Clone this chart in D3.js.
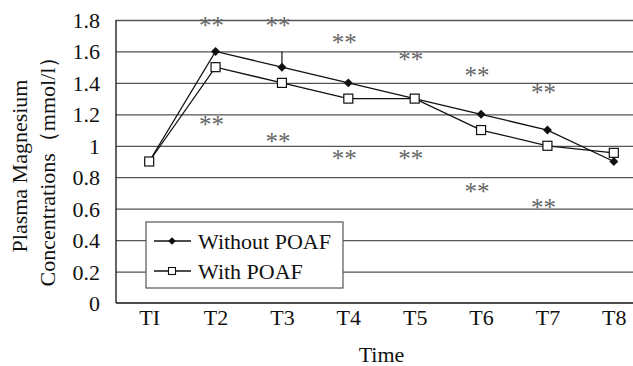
<!DOCTYPE html>
<html>
<head>
<meta charset="utf-8">
<script src="https://cdn.jsdelivr.net/npm/d3@7"></script>
<style>
  body { margin: 0; background: #fff; }
  svg text { font-family: "Liberation Serif", "DejaVu Serif", serif !important; fill: #111; }
  .grid line { stroke: #555; stroke-width: 1.3; }
  .grid path { display: none; }
  .star { fill: #666; font-size: 25px; }
</style>
</head>
<body>
<svg id="chart"></svg>
<script>
// data
const timePoints = ["TI", "T2", "T3", "T4", "T5", "T6", "T7", "T8"];
const withoutPOAF = [0.9, 1.6, 1.5, 1.4, 1.3, 1.2, 1.1, 0.9];
const withPOAF = [0.9, 1.5, 1.4, 1.3, 1.3, 1.1, 1.0, 0.955];
const yTicks = [0, 0.2, 0.4, 0.6, 0.8, 1, 1.2, 1.4, 1.6, 1.8];
// significance marks (above / below) per time point
const starAbove = [null, 1.8, 1.8, 1.69, 1.58, 1.48, 1.37, null];
const starBelow = [null, 1.17, 1.06, 0.95, 0.95, 0.74, 0.64, null];
// error bar on T3 (without POAF)
const errBars = [{ t: "T3", lo: 1.5, hi: 1.6 }];

const margin = { top: 20, right: -14, bottom: 63, left: 116 };
const W = 633, H = 366;
const width = W - margin.left - margin.right;
const height = H - margin.top - margin.bottom;

const svg = d3.select("#chart").attr("width", W).attr("height", H)
  .attr("font-family", "Liberation Serif, DejaVu Serif, serif");
const g = svg.append("g").attr("transform", `translate(${margin.left},${margin.top})`);

const x = d3.scalePoint().domain(timePoints).range([0, width]).padding(0.5);
const y = d3.scaleLinear().domain([0, 1.8]).range([height, 0]);

// gridlines
g.append("g").attr("class", "grid")
  .call(d3.axisLeft(y).tickValues(yTicks.filter(v => v > 0)).tickSize(-width).tickFormat(""));

// y tick labels
g.append("g")
  .call(d3.axisLeft(y).tickValues(yTicks).tickSize(0).tickPadding(16).tickFormat(d => d3.format("")(+d.toFixed(1))))
  .call(a => a.attr("font-family", null).select(".domain").remove())
  .selectAll("text").style("font-size", "22px").attr("dy", "0.34em");

// axes lines
g.append("line").attr("x1", 0).attr("x2", 0).attr("y1", 0).attr("y2", height)
  .attr("stroke", "#111").attr("stroke-width", 1.3);
g.append("line").attr("x1", 0).attr("x2", width).attr("y1", height).attr("y2", height)
  .attr("stroke", "#111").attr("stroke-width", 1.3);

// x tick labels
g.append("g").attr("transform", `translate(0,${height})`)
  .call(d3.axisBottom(x).tickSize(0).tickPadding(6))
  .call(a => a.attr("font-family", null).select(".domain").remove())
  .selectAll("text").style("font-size", "22px").attr("dy", "0.71em");

// axis titles
svg.append("text")
  .attr("x", margin.left + width / 2).attr("y", 362)
  .attr("text-anchor", "middle").style("font-size", "22px").text("Time");

const yt = svg.append("text")
  .attr("transform", `translate(27,166) rotate(-90)`)
  .attr("text-anchor", "middle").style("font-size", "22px");
yt.append("tspan").attr("x", 0).attr("dy", 0).text("Plasma Magnesium");
yt.append("tspan").attr("x", 0).attr("dy", 28).text("Concentrations（mmol/l）");

// error bars
g.selectAll(".err").data(errBars).join("line")
  .attr("x1", d => x(d.t)).attr("x2", d => x(d.t))
  .attr("y1", d => y(d.lo)).attr("y2", d => y(d.hi))
  .attr("stroke", "#111").attr("stroke-width", 1.2);

const line = d3.line().x((d, i) => x(timePoints[i])).y(d => y(d));

// series
g.append("path").datum(withoutPOAF).attr("d", line)
  .attr("fill", "none").attr("stroke", "#111").attr("stroke-width", 1.3);
g.append("path").datum(withPOAF).attr("d", line)
  .attr("fill", "none").attr("stroke", "#111").attr("stroke-width", 1.3);

const diamond = d3.symbol().type(d3.symbolSquare).size(40);
g.selectAll(".dia").data(withoutPOAF).join("path")
  .attr("d", diamond)
  .attr("transform", (d, i) => `translate(${x(timePoints[i])},${y(d)}) rotate(45)`)
  .attr("fill", "#111");

g.selectAll(".sq").data(withPOAF).join("rect")
  .attr("x", (d, i) => x(timePoints[i]) - 4.5).attr("y", d => y(d) - 4.5)
  .attr("width", 9).attr("height", 9)
  .attr("fill", "#fff").attr("stroke", "#111").attr("stroke-width", 1.2);

// significance stars
const stars = [];
timePoints.forEach((t, i) => {
  if (starAbove[i] != null) stars.push({ t, v: starAbove[i] });
  if (starBelow[i] != null) stars.push({ t, v: starBelow[i] });
});
g.selectAll(".star").data(stars).join("text")
  .attr("class", "star")
  .attr("x", d => x(d.t) - 4).attr("y", d => y(d.v))
  .attr("dy", "0.55em").attr("text-anchor", "middle")
  .text("**");

// legend
const lg = svg.append("g").attr("transform", "translate(146,222)");
lg.append("rect").attr("width", 197).attr("height", 66)
  .attr("fill", "#fff").attr("stroke", "#555").attr("stroke-width", 1.2);
const legendItems = [
  { label: "Without POAF", type: "diamond" },
  { label: "With POAF", type: "square" }
];
const li = lg.selectAll(".li").data(legendItems).join("g")
  .attr("transform", (d, i) => `translate(0,${19 + i * 30})`);
li.append("line").attr("x1", 8).attr("x2", 45)
  .attr("stroke", "#111").attr("stroke-width", 1.3);
li.filter(d => d.type === "diamond").append("path")
  .attr("d", d3.symbol().type(d3.symbolSquare).size(30))
  .attr("transform", "translate(26,0) rotate(45)").attr("fill", "#111");
li.filter(d => d.type === "square").append("rect")
  .attr("x", 22.5).attr("y", -3.5).attr("width", 7).attr("height", 7)
  .attr("fill", "#fff").attr("stroke", "#111").attr("stroke-width", 1.1);
li.append("text").attr("x", 52).attr("dy", "0.35em")
  .style("font-size", "22px").text(d => d.label);
</script>
</body>
</html>
